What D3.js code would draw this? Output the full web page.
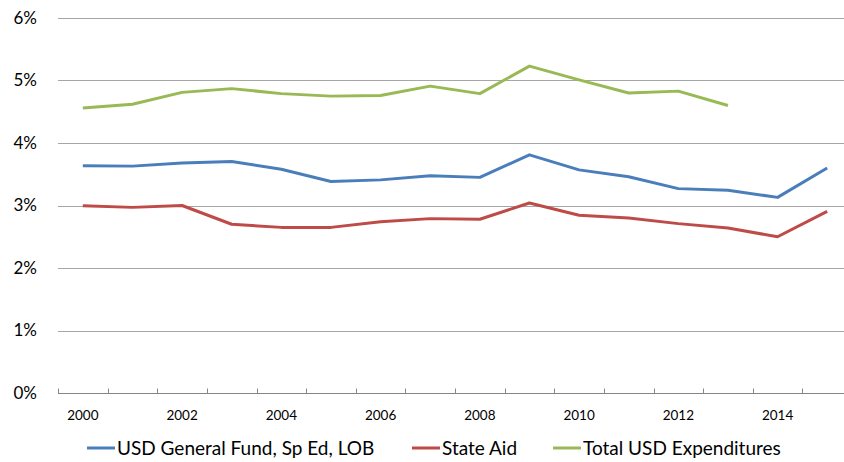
<!DOCTYPE html>
<html>
<head>
<meta charset="utf-8">
<script src="https://cdn.jsdelivr.net/npm/d3@7"></script>
<style>
  body { margin: 0; background: #fff; }
  svg { display: block; font-family: Lato, "Open Sans", sans-serif; }
</style>
</head>
<body>
<div id="chart"></div>
<script>
// data (percent)
const years = ['2000','2001','2002','2003','2004','2005','2006','2007','2008','2009','2010','2011','2012','2013','2014','2015'];
const generalFund = [3.635, 3.63, 3.68, 3.705, 3.58, 3.385, 3.41, 3.475, 3.45, 3.81, 3.57, 3.46, 3.27, 3.245, 3.13, 3.60];
const stateAid = [2.995, 2.97, 3.0, 2.70, 2.65, 2.65, 2.74, 2.79, 2.78, 3.04, 2.845, 2.80, 2.71, 2.64, 2.50, 2.905];
const totalExp = [4.56, 4.62, 4.81, 4.87, 4.79, 4.75, 4.76, 4.91, 4.79, 5.23, 5.01, 4.80, 4.83, 4.60, null, null];
const yTicks = [0, 1, 2, 3, 4, 5, 6];
const xLabels = ['2000','2002','2004','2006','2008','2010','2012','2014'];

const series = [
    { name: 'USD General Fund, Sp Ed, LOB', values: generalFund, color: '#4a7ebb' },
    { name: 'State Aid', values: stateAid, color: '#be4b48' },
    { name: 'Total USD Expenditures', values: totalExp, color: '#98b954' }
];

const width = 844, height = 462;
const plot = { left: 58, right: 852, top: 18, bottom: 393 };

const svg = d3.select('#chart').append('svg')
    .attr('width', width)
    .attr('height', height);

const x = d3.scaleBand().domain(years).range([plot.left, plot.right]);
const y = d3.scaleLinear().domain([0, 6]).range([plot.bottom, plot.top]);

// horizontal gridlines
svg.append('g')
    .selectAll('line')
    .data(yTicks.filter(d => d > 0))
    .enter().append('line')
    .attr('x1', plot.left).attr('x2', plot.right)
    .attr('y1', d => Math.round(y(d)) + 0.5).attr('y2', d => Math.round(y(d)) + 0.5)
    .attr('stroke', '#a6a6a6')
    .attr('stroke-width', 1);

// y labels
svg.append('g')
    .selectAll('text')
    .data(yTicks)
    .enter().append('text')
    .attr('x', 37)
    .attr('y', d => y(d))
    .attr('dy', '0.35em')
    .attr('text-anchor', 'end')
    .attr('font-size', 17)
    .attr('fill', '#000')
    .text(d => d + '%');

// x axis line + ticks at band edges
const axisY = Math.round(y(0)) + 0.5;
svg.append('line')
    .attr('x1', plot.left).attr('x2', plot.right)
    .attr('y1', axisY).attr('y2', axisY)
    .attr('stroke', '#868686');

const edges = years.map(d => x(d)).concat([x(years[years.length - 1]) + x.bandwidth()]);
svg.append('g')
    .selectAll('line')
    .data(edges)
    .enter().append('line')
    .attr('x1', d => Math.round(d) + 0.5).attr('x2', d => Math.round(d) + 0.5)
    .attr('y1', axisY - 5).attr('y2', axisY)
    .attr('stroke', '#868686');

svg.append('g')
    .selectAll('text')
    .data(xLabels)
    .enter().append('text')
    .attr('x', d => x(d) + x.bandwidth() / 2)
    .attr('y', 415)
    .attr('dy', '0.35em')
    .attr('text-anchor', 'middle')
    .attr('font-size', 13.5)
    .attr('fill', '#000')
    .text(d => d);

// lines
const line = d3.line()
    .defined(d => d.v != null)
    .x(d => x(d.year) + x.bandwidth() / 2)
    .y(d => y(d.v));

series.forEach(s => {
    svg.append('path')
        .datum(years.map((yr, i) => ({ year: yr, v: s.values[i] })))
        .attr('fill', 'none')
        .attr('stroke', s.color)
        .attr('stroke-width', 3)
        .attr('stroke-linejoin', 'round')
        .attr('d', line);
});

// legend
const legendX = [87, 412, 553];
const legend = svg.append('g');
series.forEach((s, i) => {
    const g = legend.append('g').attr('transform', `translate(${legendX[i]},448)`);
    g.append('line')
        .attr('x1', 0).attr('x2', 28)
        .attr('stroke', s.color)
        .attr('stroke-width', 3);
    g.append('text')
        .attr('x', 30)
        .attr('dy', '0.35em')
        .attr('font-size', 19)
        .attr('fill', '#000')
        .text(s.name);
});
</script>
</body>
</html>
